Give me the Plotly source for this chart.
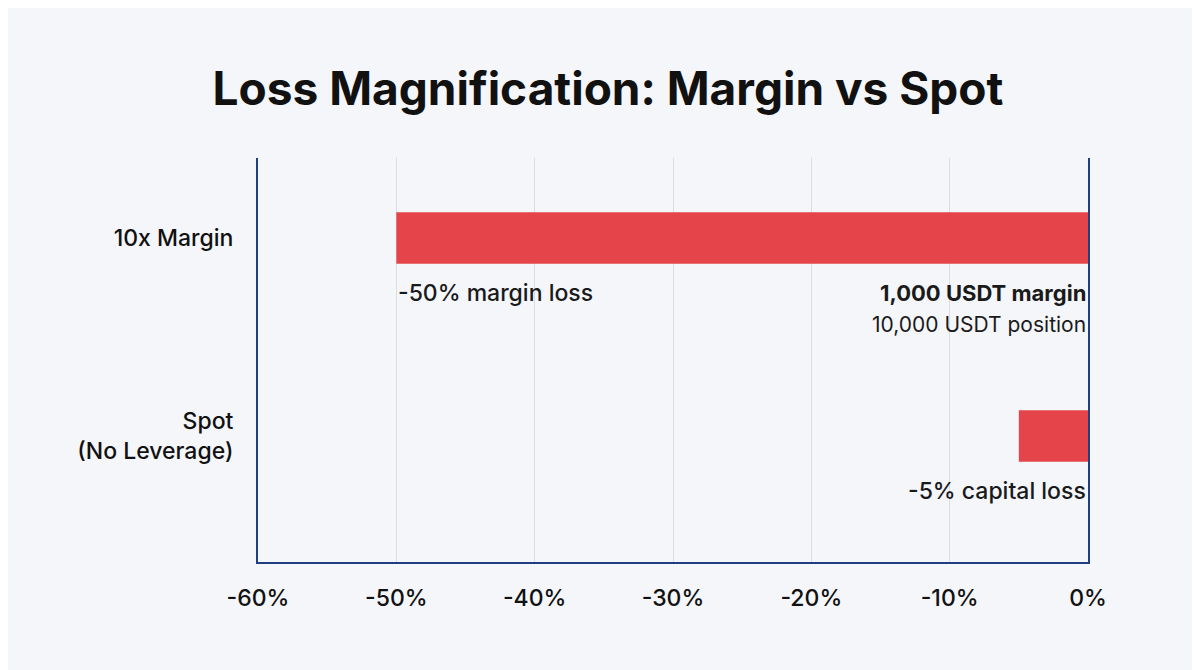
import plotly.graph_objects as go

categories = ["10x Margin", "Spot<br>(No Leverage)"]
positions = [1, 0]
losses = [-50, -5]
tick_vals = [-60, -50, -40, -30, -20, -10, 0]
tick_text = ["-60%", "-50%", "-40%", "-30%", "-20%", "-10%", "0%"]

fig = go.Figure(go.Bar(
    x=losses, y=positions, orientation="h", width=0.26,
    marker=dict(color="#e5444a", line=dict(width=0)), hoverinfo="skip"))

f = "Inter, Roboto, sans-serif"
ann = [
    dict(x=-50, y=1, text="-50% margin loss", xanchor="left", yshift=-55, size=23, w=500),
    dict(x=0, y=1, text="<b>1,000 USDT margin</b>", xanchor="right", yshift=-55, size=22, w=400),
    dict(x=0, y=1, text="10,000 USDT position", xanchor="right", yshift=-86, size=21, w=400),
    dict(x=0, y=0, text="-5% capital loss", xanchor="right", yshift=-55, size=23, w=500),
]
annotations = [dict(x=a["x"], y=a["y"], text=a["text"], xanchor=a["xanchor"], yanchor="middle",
                    yshift=a["yshift"], showarrow=False, xref="x", yref="y",
                    font=dict(family=f, size=a["size"], color="#1a1a1a", weight=a["w"]))
               for a in ann]

fig.update_layout(
    width=1200, height=670,
    paper_bgcolor="#f4f6fa", plot_bgcolor="#f4f6fa",
    margin=dict(l=250, r=120, t=150, b=116),
    title=dict(text="<b>Loss Magnification: Margin vs Spot</b>", x=0.5, xanchor="center",
               y=0.88, yanchor="middle", font=dict(family=f, size=46, color="#111")),
    xaxis=dict(range=[-60, 0], tickvals=tick_vals, ticktext=tick_text, showgrid=True,
               gridcolor="#d9dde4", gridwidth=1, zeroline=False, showline=True,
               linecolor="#1f4080", linewidth=2, ticks="", ticklabelstandoff=14,
               tickfont=dict(family=f, size=23, color="#111", weight=500)),
    yaxis=dict(range=[-0.636, 1.404], tickvals=positions, ticktext=categories,
               showgrid=False, zeroline=False, showline=True, mirror=True,
               linecolor="#1f4080", linewidth=2, ticks="", ticklabelstandoff=18,
               tickfont=dict(family=f, size=23, color="#111", weight=500)),
    annotations=annotations, showlegend=False,
)
fig.write_html("out.html")
